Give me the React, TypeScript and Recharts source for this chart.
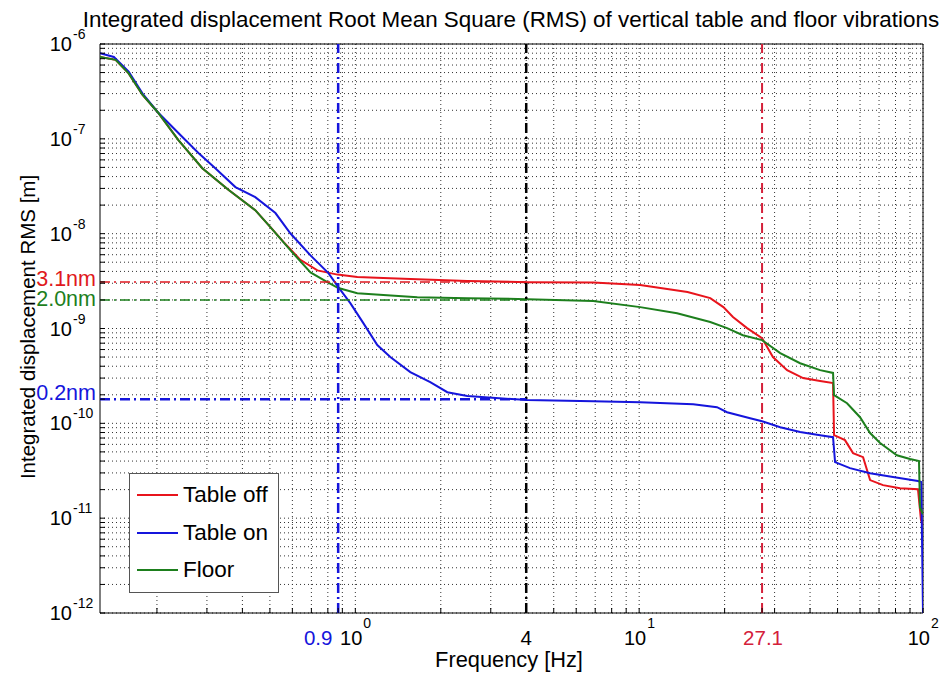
import {
  LineChart,
  Line,
  XAxis,
  YAxis,
  CartesianGrid,
  ReferenceLine,
  ReferenceArea,
  Legend,
} from 'recharts';

const FONT = '"Liberation Sans", Arial, Helvetica, sans-serif';

// Table off (red)
const tableOffFreq = [
  0.126, 0.143, 0.159, 0.178, 0.201, 0.238, 0.289, 0.357, 0.444, 0.502, 0.558, 0.64, 0.735, 0.865,
  1.016, 1.255, 1.653, 2.48, 4.03, 6.89, 10.08, 14.8, 17.8, 19.8, 21.4, 24.0, 27.1, 29.6, 33.2, 37.8,
  43.4, 48.2, 48.6, 53.1, 56.7, 61.5, 65.1, 72.3, 83.0, 96.0, 98.4, 100,
];
const tableOffRms = [
  7.3e-7, 6.8e-7, 4.9e-7, 2.9e-7, 1.92e-7, 9.7e-8, 4.9e-8, 2.9e-8, 1.77e-8, 1.17e-8, 8.2e-9, 5.3e-9,
  4.1e-9, 3.7e-9, 3.5e-9, 3.4e-9, 3.3e-9, 3.16e-9, 3.08e-9, 3.05e-9, 2.87e-9, 2.42e-9, 2.09e-9,
  1.68e-9, 1.32e-9, 1.01e-9, 7.9e-10, 5.0e-10, 3.64e-10, 3.0e-10, 2.8e-10, 2.66e-10, 7.5e-11,
  6.65e-11, 4.85e-11, 4.4e-11, 2.52e-11, 2.23e-11, 2.07e-11, 2.02e-11, 9.5e-12, 8.5e-12,
];

// Table on (blue)
const tableOnFreq = [
  0.126, 0.141, 0.159, 0.178, 0.201, 0.238, 0.28, 0.321, 0.378, 0.444, 0.523, 0.59, 0.695, 0.804,
  0.871, 0.96, 1.067, 1.195, 1.328, 1.562, 1.836, 2.109, 2.48, 4.03, 6.89, 10.08, 15.5, 18.8, 20.4,
  24.6, 27.1, 31.4, 36.9, 43.4, 48.2, 49.0, 55.3, 65.1, 78.4, 96.0, 98.6, 100,
];
const tableOnRms = [
  8.0e-7, 7.3e-7, 5.1e-7, 3.0e-7, 1.92e-7, 1.15e-7, 7.1e-8, 4.9e-8, 3.1e-8, 2.43e-8, 1.65e-8, 1.01e-8,
  5.9e-9, 3.84e-9, 2.73e-9, 1.85e-9, 1.14e-9, 6.7e-10, 5.0e-10, 3.47e-10, 2.72e-10, 2.13e-10,
  1.94e-10, 1.76e-10, 1.71e-10, 1.67e-10, 1.59e-10, 1.48e-10, 1.31e-10, 1.13e-10, 1.05e-10, 9.1e-11,
  8.1e-11, 7.5e-11, 7.15e-11, 3.9e-11, 3.37e-11, 2.98e-11, 2.71e-11, 2.46e-11, 2.4e-11, 1e-12,
];

// Floor (green)
const floorFreq = [
  0.126, 0.143, 0.159, 0.178, 0.201, 0.238, 0.289, 0.357, 0.444, 0.502, 0.59, 0.695, 0.797, 0.871,
  1.016, 1.255, 1.653, 2.48, 4.03, 6.89, 10.08, 13.6, 17.8, 20.4, 23.2, 27.1, 31.4, 36.9, 43.4, 48.2,
  48.6, 54.0, 60.0, 65.1, 70.6, 80.9, 90.0, 96.8, 97.6, 100,
];
const floorRms = [
  7.3e-7, 6.8e-7, 4.9e-7, 2.9e-7, 1.92e-7, 9.7e-8, 4.9e-8, 2.9e-8, 1.77e-8, 1.17e-8, 6.7e-9, 3.9e-9,
  3.08e-9, 2.67e-9, 2.36e-9, 2.25e-9, 2.14e-9, 2.09e-9, 2.04e-9, 1.95e-9, 1.68e-9, 1.45e-9, 1.17e-9,
  1.01e-9, 8.5e-10, 7.55e-10, 5.5e-10, 4.3e-10, 3.64e-10, 3.4e-10, 1.98e-10, 1.63e-10, 1.16e-10,
  7.9e-11, 6.2e-11, 4.6e-11, 4.2e-11, 4.0e-11, 1.3e-11, 1.1e-11,
];

const seriesNames = ['Table off', 'Table on', 'Floor'];

// marked frequencies (dash-dot verticals) and their labels
const markedFreqs = [0.87, 4, 27.1];
const markedFreqLabels = ['0.9', '4', '27.1'];
// RMS integrated from 4 Hz (dash-dot horizontals)
const markedRms = [3.1e-9, 2.0e-9, 1.8e-10];
const markedRmsLabels = ['3.1nm', '2.0nm', '0.2nm'];

const decadeFreqs = [1, 10, 100];
const decadeRms = [1e-12, 1e-11, 1e-10, 1e-9, 1e-8, 1e-7, 1e-6];

const X_MIN = 0.126;
const X_MAX = 100;
const Y_MIN = 1e-12;
const Y_MAX = 1e-6;

const RED = '#e8141c';
const BLUE = '#1515dc';
const GREEN = '#1d7f1d';
const markColors = ['#1515dc', '#000000', '#d4203a'];
const rmsMarkColors = ['#e01820', '#1d7f1d', '#1515dc'];
const rmsLabelDy = [4, 6, 1];
const freqLabelDx = [-20, 0, 1];

const toPoints = (f: number[], v: number[]) => f.map((x, i) => ({ f: x, v: v[i] }));

function logGrid(lo: number, hi: number, min: number, max: number) {
  const out: number[] = [];
  for (let e = lo; e <= hi; e++) {
    for (let m = 1; m <= 9; m++) {
      const v = parseFloat(`${m}e${e}`);
      if (v >= min && v <= max) out.push(v);
    }
  }
  return out;
}

const xGrid = logGrid(-1, 2, X_MIN, X_MAX);
const yGrid = logGrid(-12, -6, Y_MIN, Y_MAX);
const xTicks = Array.from(new Set([...xGrid, ...markedFreqs])).sort((a, b) => a - b);
const yTicks = Array.from(new Set([...yGrid, ...markedRms])).sort((a, b) => a - b);

const same = (a: number, b: number) => Math.abs(a - b) < Math.abs(b) * 1e-9;

function XTick({ x, payload }: any) {
  const v = payload.value;
  if (decadeFreqs.some((d) => same(v, d))) {
    const e = Math.round(Math.log10(v));
    return (
      <g fontFamily={FONT} fill="#000">
        <text x={x + 7} y={645} textAnchor="end" fontSize={20}>10</text>
        <text x={x + 8} y={628} textAnchor="start" fontSize={14}>{e}</text>
      </g>
    );
  }
  const i = markedFreqs.findIndex((m) => same(v, m));
  if (i >= 0) {
    return (
      <text x={x + freqLabelDx[i]} y={645} textAnchor="middle" fontSize={20.5} fontFamily={FONT} fill={markColors[i]}>
        {markedFreqLabels[i]}
      </text>
    );
  }
  return <g />;
}

function YTick({ y, payload }: any) {
  const v = payload.value;
  if (decadeRms.some((d) => same(v, d))) {
    const e = Math.round(Math.log10(v));
    return (
      <g fontFamily={FONT} fill="#000">
        <text x={72} y={y + 7} textAnchor="end" fontSize={20}>10</text>
        <text x={73} y={y - 5} textAnchor="start" fontSize={14}>{e}</text>
      </g>
    );
  }
  const i = markedRms.findIndex((m) => same(v, m));
  if (i >= 0) {
    return (
      <text x={96} y={y + rmsLabelDy[i]} textAnchor="end" fontSize={21.5} fontFamily={FONT} fill={rmsMarkColors[i]}>
        {markedRmsLabels[i]}
      </text>
    );
  }
  return <g />;
}

function LegendBox({ payload }: any) {
  const items = [...(payload || [])].sort(
    (a: any, b: any) => seriesNames.indexOf(a.value) - seriesNames.indexOf(b.value),
  );
  return (
    <div
      style={{
        width: 150,
        height: 120,
        border: '1px solid #555',
        background: '#fff',
        position: 'relative',
        boxSizing: 'border-box',
        fontFamily: FONT,
        fontSize: 22.5,
        color: '#000',
      }}
    >
      {items.map((p: any, i: number) => (
        <div
          key={p.value}
          style={{ position: 'absolute', left: 7, top: 7 + i * 37.5, height: 28, display: 'flex', alignItems: 'center' }}
        >
          <span style={{ width: 41, height: 2, background: p.color, display: 'inline-block' }} />
          <span style={{ marginLeft: 5, lineHeight: '28px', whiteSpace: 'nowrap' }}>{p.value}</span>
        </div>
      ))}
    </div>
  );
}

const dashDot = '10 4 2 4';

export default function App() {
  return (
    <div style={{ position: 'absolute', left: 0, top: 0, width: 943, height: 676, background: '#fff' }}>
      <LineChart width={943} height={676} margin={{ top: 44, right: 20, bottom: 0, left: 0 }}>
        <CartesianGrid stroke="#333" strokeDasharray="1 3" verticalValues={xGrid} horizontalValues={yGrid} />
        <XAxis
          type="number"
          dataKey="f"
          scale="log"
          domain={[X_MIN, X_MAX]}
          allowDataOverflow
          ticks={xTicks}
          interval={0}
          tick={<XTick />}
          tickLine={{ stroke: '#000' }}
          tickSize={-5}
          axisLine={false}
          height={63}
        />
        <XAxis
          xAxisId="top"
          orientation="top"
          type="number"
          dataKey="f"
          scale="log"
          domain={[X_MIN, X_MAX]}
          allowDataOverflow
          ticks={xTicks}
          interval={0}
          tick={false}
          tickLine={{ stroke: '#000' }}
          tickSize={-5}
          axisLine={false}
          height={0}
        />
        <YAxis
          type="number"
          dataKey="v"
          scale="log"
          domain={[Y_MIN, Y_MAX]}
          allowDataOverflow
          ticks={yTicks}
          interval={0}
          tick={<YTick />}
          tickLine={{ stroke: '#000' }}
          tickSize={-5}
          axisLine={false}
          width={100}
        />
        <YAxis
          yAxisId="right"
          orientation="right"
          type="number"
          dataKey="v"
          scale="log"
          domain={[Y_MIN, Y_MAX]}
          allowDataOverflow
          ticks={yGrid}
          interval={0}
          tick={false}
          tickLine={{ stroke: '#000' }}
          tickSize={-5}
          axisLine={false}
          width={0}
        />
        <Line data={toPoints(tableOffFreq, tableOffRms)} dataKey="v" name={seriesNames[0]} stroke={RED} strokeWidth={2} dot={false} isAnimationActive={false} />
        <Line data={toPoints(tableOnFreq, tableOnRms)} dataKey="v" name={seriesNames[1]} stroke={BLUE} strokeWidth={2} dot={false} isAnimationActive={false} />
        <Line data={toPoints(floorFreq, floorRms)} dataKey="v" name={seriesNames[2]} stroke={GREEN} strokeWidth={2} dot={false} isAnimationActive={false} />

        <ReferenceLine x={markedFreqs[0]} stroke={markColors[0]} strokeWidth={2.5} strokeDasharray={dashDot} />
        <ReferenceLine x={markedFreqs[1]} stroke={markColors[1]} strokeWidth={2.5} strokeDasharray={dashDot} />
        <ReferenceLine x={markedFreqs[2]} stroke={markColors[2]} strokeWidth={2} strokeDasharray={dashDot} />
        {markedRms.map((r, i) => (
          <ReferenceLine
            key={r}
            segment={[{ x: X_MIN, y: r }, { x: markedFreqs[1], y: r }]}
            stroke={rmsMarkColors[i]}
            strokeWidth={i === 2 ? 2.5 : 1.5}
            strokeDasharray={dashDot}
          />
        ))}
        <ReferenceArea x1={X_MIN} x2={X_MAX} y1={Y_MIN} y2={Y_MAX} fill="none" stroke="#000" strokeWidth={1} />

        <Legend
          layout="horizontal"
          verticalAlign="middle"
          align="center"
          content={<LegendBox />}
          wrapperStyle={{ left: 129, top: 473, width: 150, height: 120 }}
        />

        <text x={511} y={27} textAnchor="middle" fontSize={22.4} fontFamily={FONT} fill="#000">
          Integrated displacement Root Mean Square (RMS) of vertical table and floor vibrations
        </text>
        <text x={509} y={667} textAnchor="middle" fontSize={21.8} fontFamily={FONT} fill="#000">
          Frequency [Hz]
        </text>
        <text
          x={35}
          y={327}
          transform="rotate(-90, 35, 327)"
          textAnchor="middle"
          fontSize={20.5}
          fontFamily={FONT}
          fill="#000"
        >
          Integrated displacement RMS [m]
        </text>
      </LineChart>
    </div>
  );
}
